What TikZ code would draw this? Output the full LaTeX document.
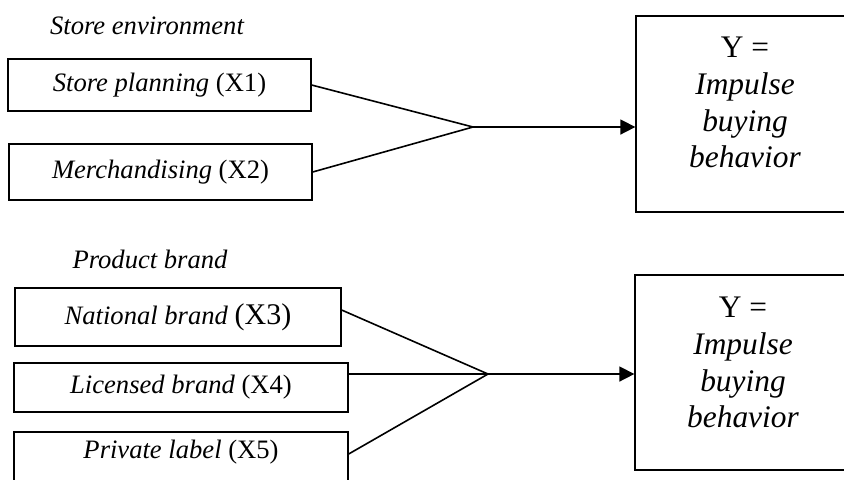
\documentclass[tikz,border=0pt]{standalone}
\usepackage{fontspec}
\setmainfont{Liberation Serif}
\usetikzlibrary{arrows.meta,calc}
\begin{document}
\begin{tikzpicture}[x=0.5pt,y=-0.5pt,
  inbox/.style={draw,line width=0.65pt,inner sep=0pt,font=\fontsize{13.3}{16}\selectfont},
  link/.style={line width=0.8pt},
  arr/.style={line width=0.8pt,-{Triangle[length=7.5pt,width=7.5pt]}},
  ybox/.style={draw,line width=0.65pt,inner sep=0pt},
  ytext/.style={align=center,inner sep=0pt,font=\fontsize{15.7}{18.4}\selectfont},
  head/.style={inner sep=0pt,font=\itshape\fontsize{13.3}{16}\selectfont}
]
\useasboundingbox (0,0) rectangle (844,479);
\clip (0,0) rectangle (844,479);

% ---- top part ----
\node[head] (h1) at (147,26) {Store environment};
\node[inbox,minimum width=151.5pt,minimum height=26pt] (x1) at (159.5,85) {\textit{Store planning} (X1)};
\node[inbox,minimum width=151.5pt,minimum height=28pt] (x2) at (160.5,172) {\textit{Merchandising} (X2)};
\coordinate (j1) at (473,127);
\node[ybox,minimum width=108pt,minimum height=98pt] (y1) at (744,114) {};
\node[ytext] (y1t) at (745,102.5) {Y =\\ \textit{Impulse}\\ \textit{buying}\\ \textit{behavior}};
\draw[link] (x1.east) -- (j1);
\draw[link] (x2.east) -- (j1);
\draw[arr] (j1) -- (j1 -| y1.west);

% ---- bottom part ----
\node[head] (h2) at (150,259) {Product brand};
\node[inbox,minimum width=163pt,minimum height=29pt] (x3) at (178,317) {\textit{National brand} {\fontsize{15}{16}\selectfont(X3)}};
\node[inbox,minimum width=167pt,minimum height=24.5pt] (x4) at (181,387.5) {\textit{Licensed brand} (X4)};
\node[inbox,minimum width=167pt,minimum height=25pt,text depth=8pt] (x5) at (181,457) {\textit{Private label} (X5)};
\coordinate (j2) at (488,374);
\node[ybox,minimum width=108.5pt,minimum height=97.5pt] (y2) at (743.5,372.5) {};
\node[ytext] (y2t) at (743,362.5) {Y =\\ \textit{Impulse}\\ \textit{buying}\\ \textit{behavior}};
\draw[link] ([yshift=3.5pt]x3.east) -- (j2);
\draw[link] (x4.east |- j2) -- (j2);
\draw[link] ([yshift=1.5pt]x5.east) -- (j2);
\draw[arr] (j2) -- (j2 -| y2.west);
\end{tikzpicture}
\end{document}
